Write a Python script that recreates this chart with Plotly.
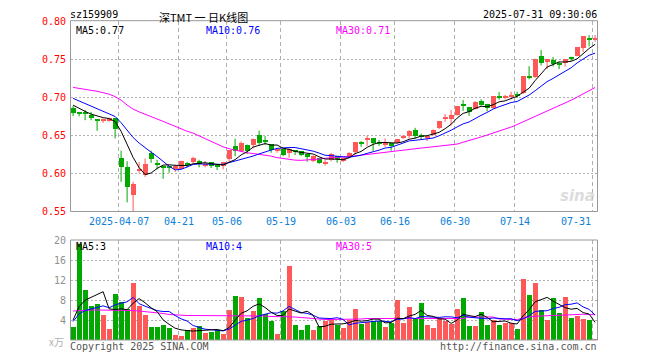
import plotly.graph_objects as go

W, H = 660, 360

# ---------------- data ----------------
tick_idx = [8, 18, 26, 35, 45, 54, 64, 74, 87]
tick_text = ["2025-04-07", "04-21", "05-06", "05-19", "06-03", "06-16", "06-30", "07-14", "07-31"]

open_ = [.686, .679, .681, .6765, .6695, .6695, .669, .672, .620, .6075,
         .571, .603, .5975, .626, .614, .6085, .6085, .605, .606, .6135,
         .615, .616, .6105, .6145, .609, .6088, .6184, .636, .629, .6373,
         .6373, .6504, .6428, .6386, .6296, .632, .6263, .6285, .6285, .625,
         .616, .620, .6125, .617, .622, .617, .621, .6272, .640, .644,
         .646, .6398, .6364, .6395, .6395, .6475, .6483, .657, .6504, .6475,
         .6504, .6592, .6715, .6708, .6768, .689, .6868, .6845, .695, .691,
         .6855, .7003, .6998, .6995, .703, .705, .7266, .726, .7546, .7462,
         .7486, .7438, .745, .7508, .7542, .7647, .7778, .7746]
high = [.689, .681, .6835, .681, .6705, .672, .673, .673, .630, .616,
        .589, .615, .6195, .630, .618, .610, .609, .6115, .617, .615,
        .622, .618, .6165, .615, .6105, .615, .630, .6456, .642, .638,
        .646, .6561, .6491, .6386, .6329, .633, .633, .6307, .629, .626,
        .6235, .6205, .6175, .627, .623, .620, .628, .641, .6425, .650,
        .6465, .6439, .646, .640, .6455, .6504, .657, .660, .6526, .6504,
        .658, .6693, .678, .6833, .6888, .6965, .687, .695, .6974, .6915,
        .702, .7072, .7035, .7075, .7075, .728, .741, .7508, .7623, .750,
        .753, .747, .7505, .7535, .766, .7806, .7818, .782]
low = [.6755, .675, .670, .670, .656, .6665, .668, .646, .589, .562,
       .550, .601, .5955, .614, .6055, .593, .601, .602, .605, .608,
       .6135, .608, .608, .607, .6045, .6053, .6154, .6228, .628, .6254,
       .6329, .6373, .6373, .6272, .6272, .6228, .6206, .6241, .623, .6154,
       .615, .6125, .6105, .616, .614, .615, .620, .6241, .6351, .6364,
       .6298, .6364, .635, .6298, .639, .6452, .646, .646, .6452, .6426,
       .650, .6585, .668, .663, .676, .6822, .6757, .684, .689, .6815,
       .685, .697, .6974, .6975, .699, .7045, .7237, .7255, .742, .7372,
       .7406, .7372, .7404, .748, .754, .7597, .7669, .7732]
close = [.679, .678, .678, .672, .669, .670, .672, .658, .608, .5815,
         .586, .605, .6125, .618, .6115, .608, .607, .609, .616, .612,
         .6195, .6115, .6115, .6095, .6085, .6145, .6298, .6285, .6403, .6294,
         .6452, .6395, .6422, .6298, .6302, .6241, .6322, .628, .6245, .621,
         .622, .614, .6132, .6254, .618, .6195, .627, .6408, .6392, .6448,
         .6395, .6392, .6408, .6351, .6452, .648, .6557, .6483, .648, .648,
         .657, .669, .6722, .6768, .6886, .6884, .6805, .694, .690, .6855,
         .7015, .6998, .7003, .7033, .7025, .7278, .726, .7506, .7454, .7498,
         .7439, .7432, .750, .7502, .7658, .7805, .7746, .7778]
volume = [2.7, 19.3, 10.0, 6.8, 7.2, 5.0, 2.2, 9.2, 7.6, 6.3,
          11.5, 6.8, 5.0, 2.6, 2.6, 3.1, 2.4, 1.1, 0.9, 2.0,
          2.5, 2.9, 1.5, 1.6, 2.0, 1.3, 6.0, 8.8, 8.6, 4.5,
          5.8, 8.4, 5.2, 3.9, 1.2, 5.9, 14.8, 3.1, 2.0, 3.0,
          2.0, 2.9, 3.9, 4.0, 3.0, 2.4, 4.0, 6.2, 3.2, 3.6,
          3.9, 3.9, 2.6, 3.4, 8.0, 3.4, 6.6, 4.2, 7.4, 3.0,
          2.4, 4.2, 3.8, 3.2, 6.2, 8.4, 2.8, 2.8, 5.6, 3.0,
          4.0, 3.0, 3.4, 3.4, 2.2, 12.2, 9.0, 11.4, 6.0, 4.0,
          8.4, 5.4, 8.6, 4.4, 4.8, 4.2, 4.0, 0.2]
# closes / volumes of the nine sessions before the visible window (estimated from MA lines)
prior_close = [.712, .710, .708, .706, .702, .700, .697, .690, .683]
prior_volume = [4.0, 3.5, 3.5, 3.3, 2.7, 6.0, 3.5, 4.0, 3.8]
ma30_price = [.7131, .712, .711, .7095, .708, .7062, .7042, .701, .6965, .690,
              .6845, .681, .6775, .6745, .6715, .6685, .665, .6615, .658, .6555,
              .653, .6495, .646, .642, .638, .635, .6325, .6305, .6288, .6272,
              .6262, .6254, .624, .6228, .6208, .6195, .618, .6175, .6172, .6175,
              .618, .619, .620, .6205, .621, .6215, .622, .623, .624, .625,
              .626, .6272, .6282, .6292, .6302, .631, .6318, .6326, .6334, .6342,
              .635, .6358, .6366, .6375, .6386, .641, .643, .6455, .648, .6505,
              .653, .6555, .658, .661, .6643, .6678, .671, .6745, .678, .6815,
              .6854, .6889, .6925, .6963, .7003, .7047, .7087, .713]
ma30_volume = [5.8, 5.9, 6.0, 6.0, 6.0, 6.0, 6.0, 6.0, 6.0, 5.9,
               5.9, 5.8, 5.7, 5.6, 5.5, 5.3, 5.1, 5.0, 5.0, 4.9,
               4.9, 4.9, 4.9, 4.9, 4.9, 4.9, 4.8, 4.8, 4.8, 4.8,
               4.8, 4.8, 4.8, 4.7, 4.7, 4.7, 4.7, 4.6, 4.5, 4.4,
               4.2, 4.1, 4.1, 4.1, 4.1, 4.1, 4.1, 4.2, 4.2, 4.3,
               4.3, 4.3, 4.3, 4.3, 4.3, 4.3, 4.3, 4.3, 4.3, 4.3,
               4.3, 4.3, 4.3, 4.3, 4.3, 4.3, 4.6, 4.6, 4.7, 4.7,
               4.6, 4.2, 4.1, 4.1, 4.1, 4.4, 4.6, 4.75, 4.8, 4.85,
               4.95, 5.0, 5.15, 5.2, 5.15, 5.15, 5.1, 5.05]
price_ticks = [0.80, 0.75, 0.70, 0.65, 0.60, 0.55]
volume_ticks = [20, 16, 12, 8, 4]

# ---------------- helpers ----------------
RED, GREEN = "#ff5858", "#00a800"
MONO = "DejaVu Sans Mono"
n = len(close)
idx = list(range(n))


def rolling(prior, vals, k):
    full = list(prior) + list(vals)
    off = len(prior)
    return [sum(full[off + i - k + 1: off + i + 1]) / k for i in range(len(vals))]


ma5_price = rolling(prior_close, close, 5)
ma10_price = rolling(prior_close, close, 10)
ma5_vol = rolling(prior_volume, volume, 5)
ma10_vol = rolling(prior_volume, volume, 10)

up = [c >= o for o, c in zip(open_, close)]
colors = [RED if u else GREEN for u in up]

# page-pixel geometry; the plot div sits 8px in from the page corner (body margin)
OFF = 8.0
X0, X1 = 70.5, 597.5
MAIN_TOP, MAIN_BOT = 21.3, 211.5
VOL_TOP, VOL_BOT = 240.0, 340.0
PX_PER_BAR = 6.0
xr = [(X0 - 73.1) / PX_PER_BAR, (X1 - 73.1) / PX_PER_BAR]


def pxx(p):
    return (p - OFF) / W


def pyy(p):
    return 1 - (p - OFF) / H


fig = go.Figure()

# candle bodies
body_base = [min(o, c) for o, c in zip(open_, close)]
body_h = [max(abs(c - o), 0.0014) for o, c in zip(open_, close)]
fig.add_trace(go.Bar(x=idx, y=body_h, base=body_base, width=0.8,
                     marker=dict(color=colors, line=dict(width=0)),
                     xaxis="x", yaxis="y", showlegend=False, hoverinfo="skip"))
# wicks
for col, flag in ((RED, True), (GREEN, False)):
    wx, wy = [], []
    for i in idx:
        if up[i] == flag:
            wx += [i, i, None]
            wy += [low[i], high[i], None]
    fig.add_trace(go.Scatter(x=wx, y=wy, mode="lines", line=dict(color=col, width=1),
                             xaxis="x", yaxis="y", showlegend=False, hoverinfo="skip"))
# price MAs
for vals, col in ((ma30_price, "#ff00ff"), (ma10_price, "#0000ff"), (ma5_price, "#000000")):
    fig.add_trace(go.Scatter(x=idx, y=vals, mode="lines", line=dict(color=col, width=1),
                             xaxis="x", yaxis="y", showlegend=False, hoverinfo="skip"))

# volume
fig.add_trace(go.Bar(x=idx, y=volume, width=0.8,
                     marker=dict(color=colors, line=dict(width=0)),
                     xaxis="x2", yaxis="y2", showlegend=False, hoverinfo="skip"))
for vals, col in ((ma30_volume, "#ff00ff"), (ma10_vol, "#0000ff"), (ma5_vol, "#000000")):
    fig.add_trace(go.Scatter(x=idx, y=vals, mode="lines", line=dict(color=col, width=1),
                             xaxis="x2", yaxis="y2", showlegend=False, hoverinfo="skip"))

grid_x = [i - 2.5 / PX_PER_BAR for i in tick_idx]
xcommon = dict(range=xr, domain=[pxx(X0), pxx(X1)], showticklabels=False, ticks="",
               showgrid=True, gridcolor="#b0b0b0", griddash="4px,3px", gridwidth=1,
               tickvals=grid_x, zeroline=False, showline=False, fixedrange=True)

fig.update_layout(
    width=W, height=H, autosize=False,
    margin=dict(l=0, r=0, t=0, b=0, pad=0),
    paper_bgcolor="white", plot_bgcolor="white",
    barmode="overlay", bargap=0,
    xaxis=dict(**xcommon, anchor="y"),
    xaxis2=dict(**xcommon, anchor="y2"),
    yaxis=dict(range=[0.55, 0.80], domain=[pyy(MAIN_BOT), pyy(MAIN_TOP)],
               tickvals=[0.60, 0.65, 0.70, 0.75], showticklabels=False, ticks="",
               showgrid=True, gridcolor="#b0b0b0", griddash="2px,2px", gridwidth=1,
               zeroline=False, showline=False, anchor="x", fixedrange=True),
    yaxis2=dict(range=[0, 20], domain=[pyy(VOL_BOT), pyy(VOL_TOP)],
                tickvals=[4, 8, 12, 16], showticklabels=False, ticks="",
                showgrid=True, gridcolor="#b0b0b0", griddash="2px,2px", gridwidth=1,
                zeroline=False, showline=False, anchor="x2", fixedrange=True),
)

# frames
for top, bot in ((20.7, MAIN_BOT), (VOL_TOP, VOL_BOT)):
    fig.add_shape(type="rect", xref="paper", yref="paper",
                  x0=pxx(X0), x1=pxx(X1), y0=pyy(bot), y1=pyy(top),
                  line=dict(color="#999999", width=1), fillcolor="rgba(0,0,0,0)")

anns = []


def txt(text, x, y, color="#000", size=10, xanchor="left", family=MONO, xref="paper",
        yref="paper", yanchor="middle"):
    anns.append(dict(text=text, x=x, y=y, xref=xref, yref=yref, xanchor=xanchor,
                     yanchor=yanchor, showarrow=False, borderpad=0,
                     font=dict(family=family, size=size, color=color)))


# header (the title box starts at the top edge of the figure)
txt("sz159909", pxx(69), pyy(14.5))
txt("深TMT 一 日K线图", pxx(203.5), 1.0, size=11, xanchor="center",
    family="Noto Sans CJK SC", yanchor="top")
txt("2025-07-31 09:30:06", pxx(597.5), pyy(14.5), xanchor="right")

# MA legends
for t, xp, col in (("MA5:0.77", 75, "#000000"), ("MA10:0.76", 205, "#0000ff"),
                   ("MA30:0.71", 334.5, "#ff00ff")):
    txt(t, pxx(xp), pyy(30.0), col)
for t, xp, col in (("MA5:3", 75, "#000000"), ("MA10:4", 204.5, "#0000ff"),
                   ("MA30:5", 335, "#ff00ff")):
    txt(t, pxx(xp), pyy(246.5), col)

# price axis labels
for v in price_ticks:
    txt(f"{v:.2f}", pxx(66.5), v, "#ff0000", xanchor="right", yref="y")
# volume axis labels
for v in volume_ticks:
    txt(str(v), pxx(66.5), v, "#909090", xanchor="right", yref="y2")
txt("x万", pxx(65), pyy(341.5), "#b0b0b0", size=10, xanchor="right",
    family="Noto Sans CJK SC")

# date labels
for i, (ti, tt) in enumerate(zip(tick_idx, tick_text)):
    if i == len(tick_idx) - 1:
        txt(tt, pxx(591.5), pyy(221.8), "#0a80d8", xanchor="right")
    else:
        txt(tt, ti - 2.5 / PX_PER_BAR, pyy(221.8), "#0a80d8", xanchor="center", xref="x")

# footer
txt("Copyright 2025 SINA.COM", pxx(69), pyy(346.5), "#555555")
txt("http://finance.sina.com.cn", pxx(597.5), pyy(346.5), "#555555", xanchor="right")

# watermark
txt("<b><i>sina</i></b>", pxx(596), pyy(196), "rgba(205,205,205,0.7)", size=15,
    xanchor="right", family="DejaVu Sans")

fig.update_layout(annotations=anns)
fig.write_html("out.html")
